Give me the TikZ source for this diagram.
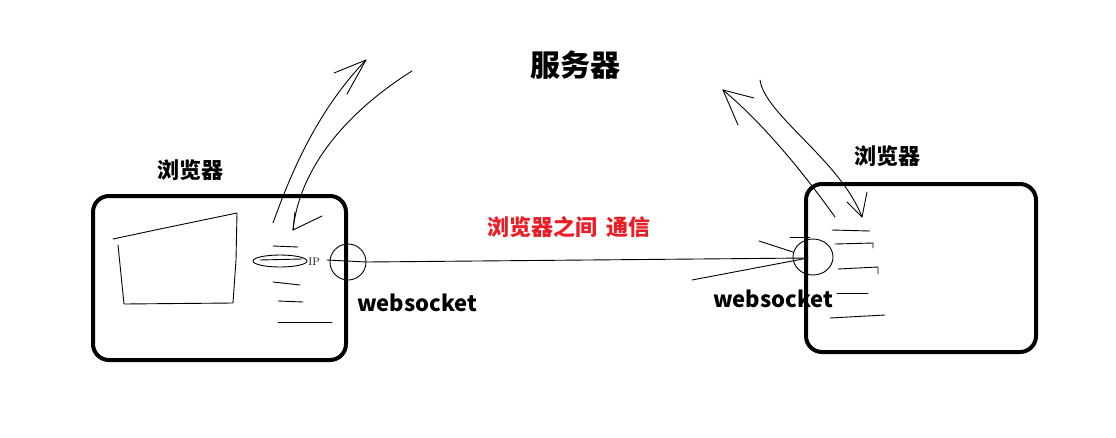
\documentclass[tikz,border=0pt]{standalone}
\usepackage{fontspec}
\newfontfamily\cjk{Noto Sans CJK SC}
\usetikzlibrary{positioning,shapes.geometric}
\definecolor{paintred}{RGB}{237,28,36}

\tikzset{
  box/.style={draw, line width=4pt, rounded corners=16pt, inner sep=0pt},
  pen/.style={line width=0.9pt, line cap=round, line join=round},
  title/.style={font=\cjk\bfseries\fontsize{#1}{#1}\selectfont, inner sep=0pt},
}

\begin{document}
\begin{tikzpicture}[x=1pt, y=-1pt]
        \useasboundingbox (0,0) rectangle (1116,437);
        % browsers
        \node[box, minimum width=253pt, minimum height=164pt] (B1) at (219.5,278) {};
        \node[box, minimum width=230pt, minimum height=168pt] (B2) at (921,268) {};
        \node[title=22] (L1) at (190,170) {浏览器};
        \node[title=22] (L2) at (887,156) {浏览器};
        \node[title=30] (S) at (575,65) {服务器};
        % websocket ends
        \node[draw, pen, circle, minimum size=36pt, inner sep=0pt] (W1) at (348,262) {};
        \node[draw, pen, ellipse, minimum width=40pt, minimum height=36pt, inner sep=0pt] (W2) at (813,257) {};
        \node[title=22] (T1) at (417,303) {websocket};
        \node[title=22] (T2) at (773,299) {websocket};
        \node[title=22, text=paintred] (M) at (569,227) {浏览器之间\hspace{3pt} 通信};
        % link between the two sockets
        \coordinate (a1) at (327,260);
        \coordinate (a2) at (808,258);
        \draw[pen] (a1) -- (W1.east) -- (a2);
        \draw[pen] (759,241) -- (793,252) (692,280) -- (a2);
        \draw[pen] (790,237) -- (810,237);
        % screen and ip list in left browser
        \draw[pen] (113,239) -- (160,229) -- (237,213) -- (236,260) -- (233,303) -- (124,304) -- (118,245);
        \draw[pen] (280,261) ellipse (27pt and 6pt);
        \draw[pen] (260,260) -- (302,259);
        \node[font=\fontsize{11}{11}\selectfont, inner sep=0pt] (ip) at (314,262) {IP};
        \draw[pen] (273,246) -- (298,247);
        \draw[pen] (273,282) -- (300,285);
        \draw[pen] (278,301) -- (303,302);
        \draw[pen] (278,322) -- (332,322);
        % list in right browser
        \draw[pen] (832,230) -- (870,231);
        \draw[pen] (835,244) -- (873,243) -- (873,248);
        \draw[pen] (838,269) -- (878,267) -- (878,274);
        \draw[pen] (837,293) -- (868,293);
        \draw[pen] (830,318) -- (885,315);
        % left browser <-> server
        \coordinate (u1) at (273,223);
        \coordinate (u2) at (366,60);
        \coordinate (d1) at (412,71);
        \coordinate (d2) at (293,230);
        \draw[pen] (u1) .. controls (292,170) and (318,110) .. (u2);
        \draw[pen] (334,73) -- (u2) -- (347,94);
        \draw[pen] (d1) .. controls (350,110) and (300,165) .. (d2);
        \draw[pen] (295,212) -- (d2) -- (322,216);
        % right browser <-> server
        \coordinate (r1) at (835,217);
        \coordinate (r2) at (723,90);
        \coordinate (s1) at (760,80);
        \coordinate (s2) at (862,217);
        \draw[pen] (r1) .. controls (805,175) and (765,125) .. (r2);
        \draw[pen] (754,98) -- (r2) -- (738,125);
        \draw[pen] (s1) .. controls (765,115) and (840,160) .. (s2);
        \draw[pen] (847,202) -- (s2) -- (867,192);
\end{tikzpicture}
\end{document}
